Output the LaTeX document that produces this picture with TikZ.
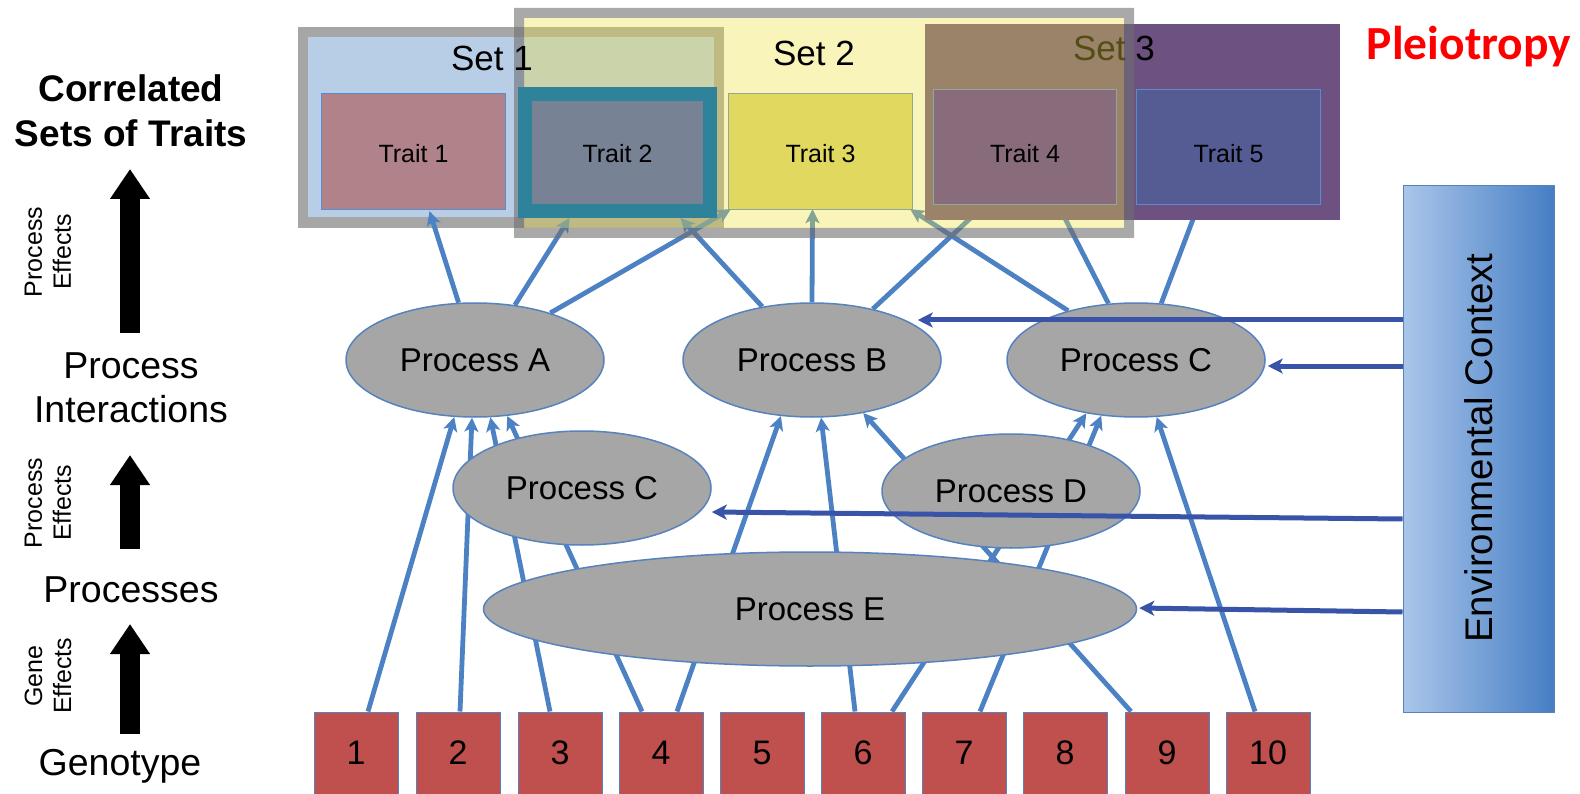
\documentclass[tikz,border=0pt]{standalone}
\usepackage{fontspec}
\setmainfont{Liberation Sans}
\newfontfamily\calibri{Carlito}
\usetikzlibrary{shapes.geometric,arrows.meta}

\definecolor{linkblue}{RGB}{76,130,196}
\definecolor{envblue}{RGB}{57,83,168}
\definecolor{edgeblue}{RGB}{86,130,190}
\definecolor{procgray}{RGB}{166,166,166}
\definecolor{genred}{RGB}{192,80,77}
\definecolor{setgray}{RGB}{166,166,166}
\definecolor{setblue}{RGB}{184,205,230}
\definecolor{veilyellow}{RGB}{240,225,60}
\definecolor{veilgray}{RGB}{112,112,112}
\definecolor{setpurple}{RGB}{109,81,128}
\definecolor{traitrose}{RGB}{176,130,138}
\definecolor{traitslate}{RGB}{120,130,149}
\definecolor{traitteal}{RGB}{46,130,153}
\definecolor{traityellow}{RGB}{218,214,115}
\definecolor{traitmauve}{RGB}{82,46,158}
\definecolor{traitblue}{RGB}{84,92,147}
\definecolor{traitedge}{RGB}{90,140,205}
\definecolor{envlight}{RGB}{170,198,234}
\definecolor{envdark}{RGB}{70,126,196}

\pgfdeclarelayer{sets}
\pgfdeclarelayer{links}
\pgfdeclarelayer{veil}
\pgfsetlayers{sets,links,veil,main}

% trait label whose baseline sits #1 below the node centre
\newcommand{\traitlabel}[2]{\smash{\raisebox{-#1}{#2}}}

\begin{document}
\begin{tikzpicture}[x=1pt,y=-1pt,
  proc/.style={ellipse, draw=edgeblue, line width=1.5pt, fill=procgray, inner sep=0pt,
    minimum width=258pt, minimum height=114pt, font=\fontsize{33}{36}\selectfont},
  gene/.style={rectangle, draw=edgeblue, line width=1pt, fill=genred, inner sep=0pt,
    minimum width=84pt, minimum height=82pt, font=\fontsize{34}{36}\selectfont},
  trait/.style={rectangle, inner sep=0pt, minimum width=183pt, minimum height=115pt,
    font=\fontsize{25}{28}\selectfont},
  traitbold/.style={trait, draw=traitteal, line width=14pt, fill=traitslate,
    minimum width=185pt, minimum height=117pt},
  settitle/.style={font=\fontsize{35}{38}\selectfont, inner sep=0pt},
  link/.style={draw=linkblue, line width=4.8pt, -{Stealth[length=14pt,width=14pt,inset=3.5pt]}},
  envlink/.style={draw=envblue, line width=5pt, -{Stealth[length=15pt,width=15pt,inset=4pt]}},
  bigarrow/.style={line width=20pt, -{Triangle[length=30pt,width=38pt]}},
  lefthead/.style={align=center, font=\bfseries\fontsize{37}{45}\selectfont},
  leftlab/.style={align=center, font=\fontsize{37.5}{44}\selectfont},
  sidelab/.style={rotate=90, align=center, font=\fontsize{25}{29}\selectfont}]

\useasboundingbox (0,0) rectangle (1580,794);

% ---------- traits ----------
\node[trait] (T1) at (413.5,151.5) {\traitlabel{11.5pt}{Trait 1}};
\node[trait] (T3) at (820.5,151.5) {\traitlabel{11.5pt}{Trait 3}};
\node[trait] (T4) at (1025,147) {\traitlabel{16pt}{Trait 4}};
\node[trait] (T5) at (1228.5,147) {\traitlabel{16pt}{Trait 5}};
\node[traitbold] (T2) at (617.5,152.5) {\traitlabel{10.5pt}{Trait 2}};
\node[settitle] (s1) at (492,58) {Set 1};
\node[settitle] (s2) at (814,53) {Set 2};
\node[font=\calibri\bfseries\fontsize{47.5}{50}\selectfont, text=red] (pleio) at (1469,47) {Pleiotropy};

% ---------- processes ----------
\node[proc] (A)  at (475,360) {Process A};
\node[proc] (B)  at (812,360) {Process B};
\node[proc] (Cr) at (1136,360) {Process C};
\node[proc] (Cl) at (582,488) {Process C};
\node[proc] (D)  at (1011,491) {Process D};
\node[proc, minimum width=653pt] (E) at (810,609) {Process E};

% ---------- genotype ----------
\foreach \i/\x in {1/356,2/458,3/560,4/661,5/762,6/863,7/964,8/1065,9/1167,10/1268}
  \node[gene] (g\i) at (\x,753) {\i};

% ---------- environment ----------
\node[draw=edgeblue, line width=1pt, left color=envlight, right color=envdark,
      minimum width=151pt, minimum height=526pt, inner sep=0pt] (env) at (1478.5,449) {};
\node[rotate=90, font=\fontsize{38.5}{40}\selectfont] (envtext) at (1479,448) {Environmental Context};

\draw[envlink] ([yshift=129pt]env.west) -- ([shift={(-24pt,40pt)}]B.east);
\draw[envlink] ([yshift=83pt]env.west) -- ([shift={(2pt,-6pt)}]Cr.east);
\draw[envlink] ([yshift=-70pt]env.west) -- ([shift={(0pt,-24pt)}]Cl.east);
\draw[envlink] ([yshift=-163pt]env.west) -- ([shift={(2pt,1pt)}]E.east);

% ---------- set frames below the links ----------
\begin{pgfonlayer}{sets}
  \fill[white] (0,0) rectangle (1580,794);
  \fill[setgray] (298,27) rectangle (724,228);
  \fill[setblue] (308,37) rectangle (714,217);
  \filldraw[fill=traitrose, draw=traitedge, line width=1pt] (T1.south west) rectangle (T1.north east);
  \filldraw[fill=traityellow, draw=traitedge, line width=1pt] (T3.south west) rectangle (T3.north east);
\end{pgfonlayer}

% ---------- effect links ----------
\begin{pgfonlayer}{links}
  % genes to processes
  \draw[link] ([xshift=12pt]g1.north)  -- (A.250.4);
  \draw[link] ([xshift=2pt]g2.north)   -- (A.267);
  \draw[link] ([xshift=-10pt]g3.north) -- (A.285);
  \draw[link] ([xshift=-19pt]g4.north) -- (A.300);
  \draw[link] ([xshift=16pt]g4.north)  -- (B.241);
  \draw[link] ([xshift=-8pt]g6.north)  -- (B.279);
  \draw[link] ([xshift=-36pt]g9.north) -- (B.314);
  \draw[link] ([xshift=29pt]g6.north)  -- (Cr.227);
  \draw[link] ([xshift=16pt]g7.north)  -- (Cr.238);
  \draw[link] ([xshift=-13pt]g10.north) -- (Cr.290.5);
  % processes to traits
  \draw[link] (A.106) -- ([shift={(16pt,-2pt)}]T1.south);
  \draw[link] (A.54)  -- ([xshift=-48pt]T2.south);
  \draw[link] (A.32)  -- ([xshift=2pt]T3.south west);
  \draw[link] (B.133) -- ([xshift=63pt]T2.south);
  \draw[link] (B.north) -- ([xshift=-8pt]T3.south);
  \draw[link] (B.40)  -- ([xshift=-40pt]T4.south);
  \draw[link] (Cr.144) -- ([xshift=-2pt]T3.south east);
  \draw[link] (Cr.116) -- ([xshift=33pt]T4.south);
  \draw[link] (Cr.66)  -- ([xshift=-30pt]T5.south);
\end{pgfonlayer}

% ---------- set 3 and the translucent set 2 ----------
\begin{pgfonlayer}{veil}
  \fill[setpurple] (925,24) rectangle (1340,220);
  \filldraw[fill=traitmauve, draw=traitedge, line width=1pt] (T4.south west) rectangle (T4.north east);
  \filldraw[fill=traitblue, draw=traitedge, line width=1pt] (T5.south west) rectangle (T5.north east);
  \node[settitle] (s3) at (1114,48) {Set 3};
  \fill[veilyellow, opacity=.35] (524,18) rectangle (1124,228);
  \fill[veilgray, opacity=.6, even odd rule] (514,8) rectangle (1134,238) (524,18) rectangle (1124,228);
\end{pgfonlayer}

% ---------- left-hand hierarchy ----------
\node[lefthead] (goal) at (131,110.5) {Correlated\\Sets of Traits};
\node[leftlab] (inter) at (131,388) {Process\\Interactions};
\node[leftlab] (procs) at (131,590) {Processes};
\node[leftlab] (geno) at (120,766) {Genotype};
\node[sidelab] (pe1) at (48,252) {Process\\Effects};
\node[sidelab] (pe2) at (48,503) {Process\\Effects};
\node[sidelab] (ge) at (48,676) {Gene\\Effects};

\coordinate (u1a) at (130,333);
\coordinate (u1b) at (130,169);
\coordinate (u2a) at (130,549);
\coordinate (u2b) at (130,455);
\coordinate (u3a) at (130,734);
\coordinate (u3b) at (130,624);
\draw[bigarrow] (u1a) -- (u1b);
\draw[bigarrow] (u2a) -- (u2b);
\draw[bigarrow] (u3a) -- (u3b);
\end{tikzpicture}
\end{document}
